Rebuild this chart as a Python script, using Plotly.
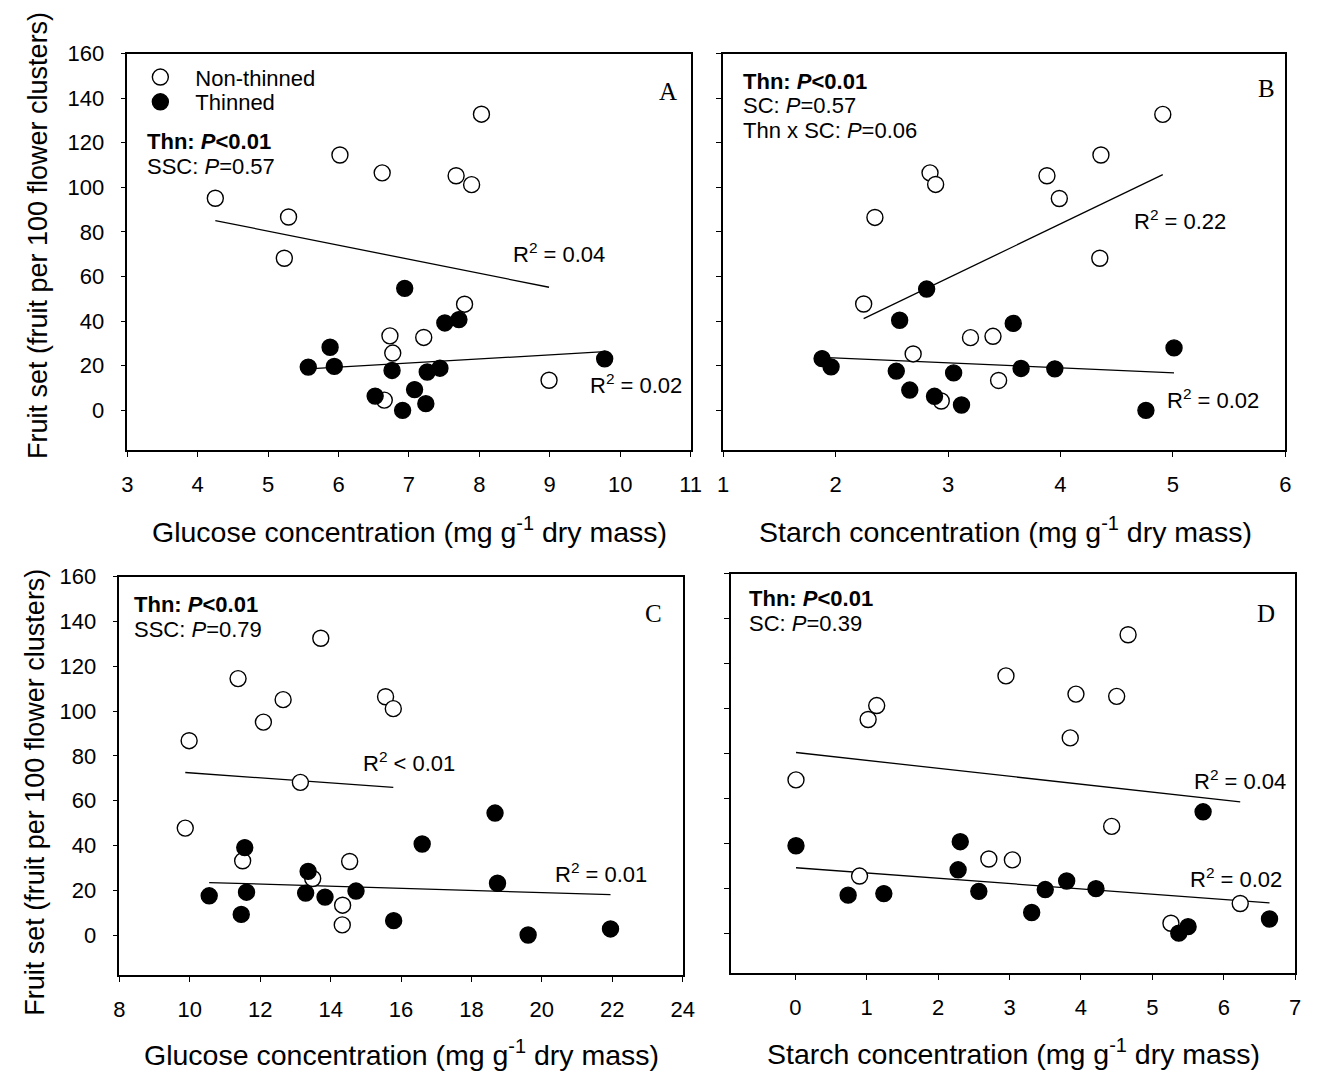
import plotly.graph_objects as go

# ---------------- data ----------------
# Panel A: glucose concentration (mg g-1 dry mass) vs fruit set
a_non_x = [4.25, 5.29, 5.23, 6.02, 6.62, 7.67, 7.89, 8.03, 7.79, 6.73, 6.77, 7.21, 6.65, 8.99]
a_non_y = [95.1, 86.7, 68.2, 114.5, 106.5, 105.2, 101.2, 132.8, 47.6, 33.4, 25.7, 32.7, 4.6, 13.5]
a_thn_x = [6.94, 5.88, 5.57, 5.94, 6.76, 7.26, 7.44, 7.51, 7.71, 6.52, 7.08, 6.91, 7.24, 9.78]
a_thn_y = [54.7, 28.3, 19.4, 19.7, 17.9, 17.2, 18.9, 39.2, 40.7, 6.4, 9.3, 0.0, 3.0, 23.1]
a_non_fit_x = [4.25, 8.99]
a_non_fit_y = [85.1, 55.2]
a_thn_fit_x = [5.57, 9.78]
a_thn_fit_y = [18.6, 26.3]

# Panel B: starch concentration vs fruit set
b_non_x = [4.91, 4.36, 3.88, 3.99, 2.84, 2.89, 2.35, 4.35, 2.25, 3.20, 3.40, 2.69, 3.45, 2.94]
b_non_y = [132.7, 114.5, 105.2, 95.0, 106.5, 101.3, 86.5, 68.2, 47.7, 32.6, 33.2, 25.3, 13.4, 4.2]
b_thn_x = [2.81, 2.57, 3.58, 5.01, 1.88, 1.96, 2.54, 3.05, 3.65, 3.95, 2.66, 2.88, 3.12, 4.76]
b_thn_y = [54.4, 40.4, 39.0, 28.0, 23.2, 19.5, 17.6, 16.8, 18.8, 18.6, 9.1, 6.3, 2.4, 0.0]
b_non_fit_x = [2.25, 4.91]
b_non_fit_y = [41.1, 105.7]
b_thn_fit_x = [1.88, 5.01]
b_thn_fit_y = [23.8, 16.8]

# Panel C: glucose concentration vs fruit set
c_non_x = [13.72, 11.37, 12.65, 12.09, 15.56, 15.78, 9.98, 13.14, 9.87, 11.50, 14.54, 13.49, 14.34, 14.33]
c_non_y = [132.5, 114.5, 105.1, 95.1, 106.4, 101.1, 86.8, 68.2, 47.8, 33.2, 32.9, 25.3, 13.4, 4.6]
c_thn_x = [18.67, 16.60, 11.56, 13.36, 18.74, 10.55, 11.61, 13.29, 13.84, 14.72, 11.46, 15.79, 19.61, 21.95]
c_thn_y = [54.5, 40.7, 39.1, 28.5, 23.2, 17.6, 19.2, 18.8, 17.0, 19.7, 9.3, 6.5, 0.1, 2.8]
c_non_fit_x = [9.87, 15.78]
c_non_fit_y = [72.6, 66.0]
c_thn_fit_x = [10.55, 21.95]
c_thn_fit_y = [23.5, 18.1]

# Panel D: starch concentration vs fruit set
d_non_x = [4.66, 2.95, 3.93, 4.50, 1.14, 1.02, 3.85, 0.01, 4.43, 2.71, 3.04, 0.90, 6.23, 5.26]
d_non_y = [132.8, 114.5, 106.4, 105.4, 101.3, 95.1, 86.9, 68.2, 47.5, 33.0, 32.6, 25.4, 13.2, 4.4]
d_thn_x = [5.71, 0.01, 2.31, 2.28, 0.74, 1.24, 2.57, 3.50, 3.80, 4.21, 3.31, 5.37, 5.50, 6.64]
d_thn_y = [54.0, 38.9, 40.7, 28.2, 16.9, 17.6, 18.6, 19.4, 23.2, 19.8, 9.2, 0.0, 2.9, 6.3]
d_non_fit_x = [0.01, 6.23]
d_non_fit_y = [80.4, 58.4]
d_thn_fit_x = [0.01, 6.64]
d_thn_fit_y = [29.1, 13.5]

y_ticks = [0, 20, 40, 60, 80, 100, 120, 140, 160]
a_ticks = [3, 4, 5, 6, 7, 8, 9, 10, 11]
b_ticks = [1, 2, 3, 4, 5, 6]
c_ticks = [8, 10, 12, 14, 16, 18, 20, 22, 24]
d_ticks = [0, 1, 2, 3, 4, 5, 6, 7]

legend_names = ["Non-thinned", "Thinned"]
glucose_title = "Glucose concentration (mg g<sup>-1</sup> dry mass)"
starch_title = "Starch concentration (mg g<sup>-1</sup> dry mass)"
fruit_title = "Fruit set (fruit per 100 flower clusters)"

# ---------------- figure ----------------
W, H = 1323, 1074
FONT = "Liberation Sans, Arial, sans-serif"
SERIF = "Liberation Serif, Times New Roman, serif"
TXT = 22


def px(x):
    return x / W


def py(y):
    return 1 - y / H


panels = [
    (a_non_x, a_non_y, a_thn_x, a_thn_y,
     (a_non_fit_x, a_non_fit_y, a_thn_fit_x, a_thn_fit_y),
     [3, 11], a_ticks, (123, 694), (42, 443)),
    (b_non_x, b_non_y, b_thn_x, b_thn_y,
     (b_non_fit_x, b_non_fit_y, b_thn_fit_x, b_thn_fit_y),
     [1, 6], b_ticks, (727, 1297), (42, 443)),
    (c_non_x, c_non_y, c_thn_x, c_thn_y,
     (c_non_fit_x, c_non_fit_y, c_thn_fit_x, c_thn_fit_y),
     [8, 24], c_ticks, (115, 686), (571, 974)),
    (d_non_x, d_non_y, d_thn_x, d_thn_y,
     (d_non_fit_x, d_non_fit_y, d_thn_fit_x, d_thn_fit_y),
     [-0.9, 7.0], d_ticks, (735, 1307), (568, 972)),
]

fig = go.Figure()
layout = {}
MS = 16
YR = [-17.8, 160]
for i, (nx, ny, tx, ty, fits, xr, xt, xd, yd) in enumerate(panels, start=1):
    xa = "x" if i == 1 else f"x{i}"
    ya = "y" if i == 1 else f"y{i}"
    fx1, fy1, fx2, fy2 = fits
    for fx, fy in ((fx1, fy1), (fx2, fy2)):
        fig.add_trace(go.Scatter(x=fx, y=fy, mode="lines", xaxis=xa, yaxis=ya,
                                 line=dict(color="black", width=1.3), showlegend=False,
                                 hoverinfo="skip"))
    fig.add_trace(go.Scatter(x=nx, y=ny, mode="markers", xaxis=xa, yaxis=ya,
                             name=legend_names[0], showlegend=(i == 1), legend="legend",
                             marker=dict(symbol="circle", size=MS, color="white",
                                         line=dict(color="black", width=1.4))))
    fig.add_trace(go.Scatter(x=tx, y=ty, mode="markers", xaxis=xa, yaxis=ya,
                             name=legend_names[1], showlegend=(i == 1), legend="legend2",
                             marker=dict(symbol="circle", size=MS, color="black",
                                         line=dict(color="black", width=1.4))))
    xkey = "xaxis" if i == 1 else f"xaxis{i}"
    ykey = "yaxis" if i == 1 else f"yaxis{i}"
    layout[xkey] = dict(
        domain=[px(xd[0]), px(xd[1])], range=xr, anchor=ya,
        tickmode="array", tickvals=xt, ticks="outside", ticklen=5, tickwidth=1.3,
        tickcolor="black", showline=True, linecolor="black", linewidth=1.5,
        mirror=True, showgrid=False, zeroline=False,
        tickfont=dict(family=FONT, size=22, color="black"),
        ticklabelstandoff=9,
    )
    layout[ykey] = dict(
        domain=[py(yd[1]), py(yd[0])], range=YR, anchor=xa,
        tickmode="array", tickvals=y_ticks, ticks="outside", ticklen=5, tickwidth=1.3,
        tickcolor="black", showline=True, linecolor="black", linewidth=1.5,
        mirror=True, showgrid=False, zeroline=False,
        showticklabels=(i in (1, 3)),
        tickfont=dict(family=FONT, size=22, color="black"),
        ticklabelstandoff=12,
    )
    # overlay axes giving the inner half of the crossing ticks
    layout[f"xaxis{i + 4}"] = dict(
        overlaying=xa, anchor=ya, range=xr, tickmode="array", tickvals=xt,
        ticks="inside", ticklen=5, tickwidth=1.3, tickcolor="black",
        showticklabels=False, showline=False, showgrid=False, zeroline=False,
    )
    layout[f"yaxis{i + 4}"] = dict(
        overlaying=ya, anchor=xa, range=YR, tickmode="array", tickvals=y_ticks,
        ticks="inside", ticklen=5, tickwidth=1.3, tickcolor="black", mirror="ticks",
        showticklabels=False, showline=False, showgrid=False, zeroline=False,
    )

ann = []


def txt(x, y, s, size=TXT, family=FONT, xanchor="left"):
    ann.append(dict(x=px(x), y=py(y), xref="paper", yref="paper", text=s,
                    showarrow=False, xanchor=xanchor, yanchor="middle",
                    font=dict(family=family, size=size, color="black")))


thn = "<b>Thn: <i>P</i>&lt;0.01</b>"
# Panel A
txt(141, 131, thn)
txt(141, 156, "SSC: <i>P</i>=0.57")
txt(512, 244, "R<sup>2</sup> = 0.04")
txt(590, 376, "R<sup>2</sup> = 0.02")
txt(671, 80, "A", size=25, family=SERIF, xanchor="center")
# Panel B
txt(745, 70, thn)
txt(745, 95, "SC: <i>P</i>=0.57")
txt(745, 120, "Thn x SC: <i>P</i>=0.06")
txt(1142, 210, "R<sup>2</sup> = 0.22")
txt(1175, 391, "R<sup>2</sup> = 0.02")
txt(1278, 77, "B", size=25, family=SERIF, xanchor="center")
# Panel C
txt(128, 599, thn)
txt(128, 624, "SSC: <i>P</i>=0.79")
txt(360, 758, "R<sup>2</sup> &lt; 0.01")
txt(555, 871, "R<sup>2</sup> = 0.01")
txt(656, 608, "C", size=25, family=SERIF, xanchor="center")
# Panel D
txt(751, 593, thn)
txt(751, 618, "SC: <i>P</i>=0.39")
txt(1202, 777, "R<sup>2</sup> = 0.04")
txt(1198, 876, "R<sup>2</sup> = 0.02")
txt(1277, 608, "D", size=25, family=SERIF, xanchor="center")


def title(x, y, s, angle=0, size=28.5):
    ann.append(dict(x=px(x), y=py(y), xref="paper", yref="paper", text=s,
                    showarrow=False, xanchor="center", yanchor="middle", textangle=angle,
                    font=dict(family=FONT, size=size, color="black")))


title(409, 524, glucose_title)
title(1013, 524, starch_title)
title(401, 1053, glucose_title)
title(1021, 1052, starch_title)
title(33, 226, fruit_title, angle=-90, size=27)
title(30, 789, fruit_title, angle=-90, size=27)

layout["annotations"] = ann
fig.update_layout(**layout)
leg_common = dict(xanchor="left", yanchor="middle",
                  font=dict(family=FONT, size=TXT, color="black"),
                  bgcolor="rgba(0,0,0,0)", borderwidth=0, itemwidth=60)
fig.update_layout(
    width=W, height=H, margin=dict(l=0, r=0, t=0, b=0),
    paper_bgcolor="white", plot_bgcolor="white",
    showlegend=True,
    legend=dict(x=px(121), y=py(66), **leg_common),
    legend2=dict(x=px(121), y=py(91), **leg_common),
)

fig.write_html(
    "out.html",
    config={"displayModeBar": False},
    post_script=("document.body.style.margin='0px';"
                 "document.body.style.overflow='hidden';"
                 "document.documentElement.style.overflow='hidden';"),
)
